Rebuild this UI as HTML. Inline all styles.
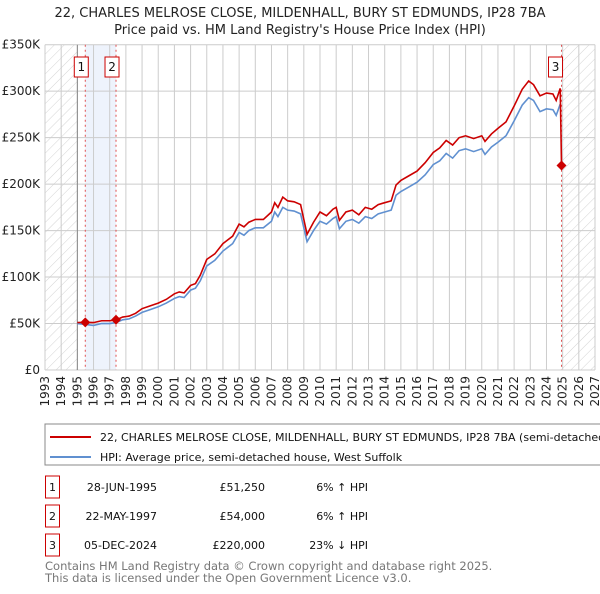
<!DOCTYPE html>
<html><head><meta charset="utf-8"><style>
body{margin:0;background:#fff;width:600px;height:590px;overflow:hidden;font-family:"DejaVu Sans","Liberation Sans",sans-serif;}
svg text{font-family:"DejaVu Sans","Liberation Sans",sans-serif;}
</style></head><body>
<svg id="chart" width="600" height="590" xmlns="http://www.w3.org/2000/svg">
<defs>
<pattern id="hatch" width="7" height="7" patternUnits="userSpaceOnUse" patternTransform="rotate(45)">
<line x1="0" y1="0" x2="0" y2="7" stroke="#d4d4d4" stroke-width="1"/>
</pattern>
</defs>
<text x="300" y="17" text-anchor="middle" font-size="13" fill="#222">22, CHARLES MELROSE CLOSE, MILDENHALL, BURY ST EDMUNDS, IP28 7BA</text>
<text x="300" y="34" text-anchor="middle" font-size="13" fill="#222">Price paid vs. HM Land Registry's House Price Index (HPI)</text>
<g id="plot"></g>
<rect x="45" y="424" width="570" height="41" fill="#fff" stroke="#888"/>
<line x1="50" y1="437" x2="91" y2="437" stroke="#cc0000" stroke-width="2"/>
<text x="100" y="441" font-size="11" fill="#111">22, CHARLES MELROSE CLOSE, MILDENHALL, BURY ST EDMUNDS, IP28 7BA (semi-detached house)</text>
<line x1="50" y1="457" x2="91" y2="457" stroke="#6090d0" stroke-width="2"/>
<text x="100" y="461" font-size="11" fill="#111">HPI: Average price, semi-detached house, West Suffolk</text>
<g id="table"></g>
<text x="45" y="570" font-size="11.5" fill="#777">Contains HM Land Registry data © Crown copyright and database right 2025.</text>
<text x="45" y="582" font-size="11.5" fill="#777">This data is licensed under the Open Government Licence v3.0.</text>
</svg>
<script>
const years=[1995.0,1995.5,1996.0,1996.5,1997.0,1997.4,1997.8,1998.2,1998.6,1999.0,1999.5,2000.0,2000.5,2001.0,2001.3,2001.6,2002.0,2002.3,2002.6,2003.0,2003.5,2004.0,2004.3,2004.6,2005.0,2005.3,2005.6,2006.0,2006.5,2007.0,2007.2,2007.4,2007.7,2008.0,2008.4,2008.8,2009.0,2009.2,2009.6,2010.0,2010.4,2010.8,2011.0,2011.2,2011.6,2012.0,2012.4,2012.8,2013.2,2013.6,2014.0,2014.4,2014.7,2015.0,2015.5,2016.0,2016.5,2017.0,2017.4,2017.8,2018.2,2018.6,2019.0,2019.5,2020.0,2020.2,2020.6,2021.0,2021.5,2022.0,2022.5,2022.9,2023.2,2023.6,2024.0,2024.4,2024.6,2024.85];
const hpi=[50,49,48,50,50,51,54,55,58,62,65,68,72,77,79,78,86,88,96,112,118,128,132,136,148,145,150,153,153,160,170,165,175,172,171,168,153,138,150,160,157,163,165,152,160,162,158,165,163,168,170,172,188,192,197,202,210,221,225,233,228,236,238,235,238,232,240,245,252,268,285,293,290,278,281,280,274,286];
const paidYears=[1995.0,1995.5,1996.0,1996.5,1997.0,1997.4,1997.8,1998.2,1998.6,1999.0,1999.5,2000.0,2000.5,2001.0,2001.3,2001.6,2002.0,2002.3,2002.6,2003.0,2003.5,2004.0,2004.3,2004.6,2005.0,2005.3,2005.6,2006.0,2006.5,2007.0,2007.2,2007.4,2007.7,2008.0,2008.4,2008.8,2009.0,2009.2,2009.6,2010.0,2010.4,2010.8,2011.0,2011.2,2011.6,2012.0,2012.4,2012.8,2013.2,2013.6,2014.0,2014.4,2014.7,2015.0,2015.5,2016.0,2016.5,2017.0,2017.4,2017.8,2018.2,2018.6,2019.0,2019.5,2020.0,2020.2,2020.6,2021.0,2021.5,2022.0,2022.5,2022.9,2023.2,2023.6,2024.0,2024.4,2024.6,2024.85,2024.93];
const paid=[51,51.3,51,53,53,54,57,58,61,66,69,72,76,82,84,83,91,93,102,119,125,136,140,144,157,154,159,162,162,170,180,175,186,182,181,178,162,146,159,170,166,173,175,161,170,172,167,175,173,178,180,182,199,204,209,214,223,234,239,247,242,250,252,249,252,246,254,260,267,284,302,311,307,295,298,297,290,303,220];
const saleYears=[1995.49,1997.39,2024.93];
const salePrices=[51.25,54,220];
const saleLabels=["1","2","3"];
const saleDates=["28-JUN-1995","22-MAY-1997","05-DEC-2024"];
const salePriceText=["£51,250","£54,000","£220,000"];
const saleDiff=["6% ↑ HPI","6% ↑ HPI","23% ↓ HPI"];
const yTicks=[0,50,100,150,200,250,300,350];
const yTickLabels=["£0","£50K","£100K","£150K","£200K","£250K","£300K","£350K"];
const xTicks=[1993,1994,1995,1996,1997,1998,1999,2000,2001,2002,2003,2004,2005,2006,2007,2008,2009,2010,2011,2012,2013,2014,2015,2016,2017,2018,2019,2020,2021,2022,2023,2024,2025,2026,2027];

const NS="http://www.w3.org/2000/svg";
const L=45,R=595,T=44.7,B=370;
const X=y=>L+(y-1993)/(2027-1993)*(R-L);
const Y=v=>B-v/350*(B-T);
const plot=document.getElementById('plot');
function mk(tag,attrs,parent){const e=document.createElementNS(NS,tag);for(const k in attrs)e.setAttribute(k,attrs[k]);(parent||plot).appendChild(e);return e;}

let r=mk('rect',{x:L,y:T,width:X(1995)-L,height:B-T,fill:'url(#hatch)'});


r=mk('rect',{x:X(2025),y:T,width:R-X(2025),height:B-T,fill:'url(#hatch)'});


r=mk('rect',{x:X(saleYears[0]),y:T,width:X(saleYears[1])-X(saleYears[0]),height:B-T,fill:'#eef3fc'});



xTicks.forEach(t=>{
  const l=mk('line',{x1:X(t),x2:X(t),y1:T,y2:B,stroke:'#ccc','stroke-width':1});
  
  
  const tx=mk('text',{x:0,y:0,'font-size':12,fill:'#222','text-anchor':'end',transform:`translate(${X(t)+4},${B+6}) rotate(-90)`});
  tx.textContent=t;
  
  
});
yTicks.forEach((t,i)=>{
  const l=mk('line',{x1:L,x2:R,y1:Y(t),y2:Y(t),stroke:'#ccc','stroke-width':1});
  
  
  const tx=mk('text',{x:L-5,y:Y(t)+4,'font-size':12,fill:'#222','text-anchor':'end'});
  tx.textContent=yTickLabels[i];
  
  
});
const ax=mk('line',{x1:X(1995),x2:X(1995),y1:T,y2:B,stroke:'#888','stroke-width':1});



saleYears.forEach((s,i)=>{
  const l=mk('line',{x1:X(s),x2:X(s),y1:T,y2:B,stroke:'#e05050','stroke-width':1,'stroke-dasharray':'2,3'});
  
  
});

const hp=mk('polyline',{points:years.map((y,i)=>X(y)+','+Y(hpi[i])).join(' '),fill:'none',stroke:'#6090d0','stroke-width':1.6});


const pp=mk('polyline',{points:paidYears.map((y,i)=>X(y)+','+Y(paid[i])).join(' '),fill:'none',stroke:'#cc0000','stroke-width':1.6});



saleYears.forEach((s,i)=>{
  const cx=X(s),cy=Y(salePrices[i]);
  const d=mk('polygon',{points:`${cx},${cy-5} ${cx+5},${cy} ${cx},${cy+5} ${cx-5},${cy}`,fill:'#cc0000'});
  
  
  const off=(i==2?-13:-11);
  const bx=mk('rect',{x:cx+off,y:57,width:14,height:20,fill:'#fff',stroke:'#cc0000'});
  
  
  const t=mk('text',{x:cx+off+7,y:71,'font-size':12,'text-anchor':'middle',fill:'#111'});
  t.textContent=saleLabels[i];
  
  
});

const tb=document.getElementById('table');
const rowsY=[487,516,545];
saleLabels.forEach((s,i)=>{
  const y=rowsY[i];
  const b=mk('rect',{x:45.5,y:y-11,width:14,height:22,fill:'#fff',stroke:'#cc0000'},tb);
  
  
  const cols=[[52.5,s,'middle'],[157,saleDates[i],'end'],[265,salePriceText[i],'end'],[368,saleDiff[i],'end']];
  const names=['table-row-number','table-row-date','table-row-price','table-row-hpi-diff'];
  cols.forEach((c,j)=>{
    const t=mk('text',{x:c[0],y:y+4,'font-size':11,fill:'#111','text-anchor':c[2]},tb);
    t.textContent=c[1];
    
    
  });
});
</script>
</body></html>
